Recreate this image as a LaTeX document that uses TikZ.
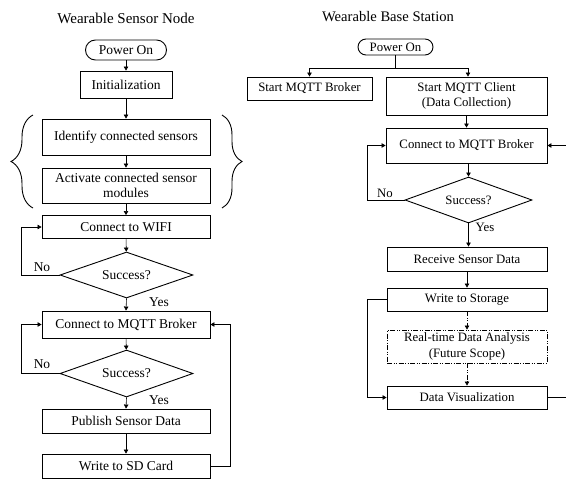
\documentclass[tikz,border=0pt]{standalone}
\usepackage{fontspec}
\setmainfont{Liberation Serif}
\usetikzlibrary{arrows.meta,shapes.geometric,decorations.pathreplacing}
\newcommand{\lfnt}{\fontsize{13.5}{15}\selectfont}
\newcommand{\rfnt}{\fontsize{12.8}{15.5}\selectfont}
\begin{document}
\begin{tikzpicture}[x=1pt,y=-1pt,
  box/.style={draw, line width=0.9pt, inner sep=0pt, align=center},
  lbox/.style={box, font=\lfnt, minimum width=168pt},
  rbox/.style={box, font=\rfnt, minimum width=160pt},
  term/.style={draw, line width=0.9pt, inner sep=0pt},
  dia/.style={draw, diamond, line width=0.9pt, inner sep=0pt, aspect=2.9},
  arr/.style={line width=0.6pt, -{Triangle[length=4pt,width=4.5pt]}},
  ln/.style={line width=0.6pt},
  dd/.style={dash pattern=on 5pt off 1.5pt on 1pt off 1.5pt on 1pt off 1.5pt},
  lab/.style={font=\lfnt, inner sep=0pt},
  rlab/.style={font=\rfnt, inner sep=0pt}
]
\useasboundingbox (0,0) rectangle (566,479);

% ---------------- Left: Wearable Sensor Node
\node[font=\fontsize{15}{17}\selectfont] (t1) at (126,18) {Wearable Sensor Node};
\node[term, rounded corners=10pt, minimum width=81pt, minimum height=20pt, font=\lfnt] (pon1) at (126,50) {Power On};
\node[lbox, minimum width=92pt, minimum height=27pt] (init) at (126,84.5) {Initialization};
\node[lbox, minimum height=36pt] (ident) at (126,137) {Identify connected sensors};
\node[lbox, minimum height=35pt] (activ) at (126,185.5) {Activate connected sensor\\modules};
\node[lbox, minimum height=23pt] (wifi) at (126,227) {Connect to WIFI};
\node[dia, minimum width=133pt, minimum height=46pt, font=\lfnt] (d1) at (126.5,275) {Success?};
\node[lbox, minimum height=27pt] (mq1) at (126,324.5) {Connect to MQTT Broker};
\node[dia, minimum width=133pt, minimum height=47pt, font=\lfnt] (d2) at (126.5,373.5) {Success?};
\node[lbox, minimum height=24pt] (pub) at (126,421) {Publish Sensor Data};
\node[lbox, minimum height=24pt] (sd) at (126,466) {Write to SD Card};

\draw[decorate, decoration={brace, amplitude=22pt}, line width=0.9pt] (33,208) -- (33,115);
\draw[decorate, decoration={brace, amplitude=20pt}, line width=0.9pt] (222,115) -- (222,208);

\draw[arr] (pon1) -- (init);
\draw[arr] (init) -- (ident);
\draw[arr] (ident) -- (activ);
\draw[arr] (activ) -- (wifi);
\draw[arr] (wifi) -- (d1);
\draw[arr] (d1.west) -- ++(-38,0) |- (wifi.west);
\node[lab] (no1) at (42,267) {No};
\draw[arr] (d1.south) -- (mq1.north);
\node[lab] (yes1) at (159,302) {Yes};
\draw[arr] (mq1) -- (d2);
\draw[arr] (d2.west) -- ++(-38,0) |- (mq1.west);
\node[lab] (no2) at (42,364) {No};
\draw[arr] (d2.south) -- (pub.north);
\node[lab] (yes2) at (159,400) {Yes};
\draw[arr] (pub) -- (sd);
\draw[arr] (sd.east) -- ++(20,0) |- (mq1.east);

% ---------------- Right: Wearable Base Station
\node[font=\fontsize{14.6}{17}\selectfont] (t2) at (388,17) {Wearable Base Station};
\node[term, rounded corners=8pt, minimum width=75pt, minimum height=16pt, font=\rfnt] (pon2) at (395.5,47) {Power On};
\node[rbox, minimum width=125pt, minimum height=23pt] (broker) at (309.5,88.5) {Start MQTT Broker};
\node[rbox, minimum width=161pt, minimum height=38pt] (client) at (466.5,96) {Start MQTT Client\\(Data Collection)};
\node[rbox, minimum width=161pt, minimum height=35pt] (conn2) at (466.5,145.5) {Connect to MQTT Broker};
\node[dia, minimum width=127pt, minimum height=46pt, font=\rfnt] (d3) at (468.5,200) {Success?};
\node[rbox, minimum height=24pt] (recv) at (467,259) {Receive Sensor Data};
\node[rbox, minimum height=23pt] (store) at (467,299.5) {Write to Storage};
\node[rbox, dd, minimum height=33pt] (rt) at (467,346.5) {Real-time Data Analysis\\(Future Scope)};
\node[rbox, minimum height=23pt] (vis) at (467,397.5) {Data Visualization};

\draw[ln] (pon2.south) -- ++(0,13) coordinate (j);
\draw[arr] (j) -| (broker.north);
\draw[arr] (j) -| ([xshift=1.5pt]client.north);
\draw[arr] (client) -- (conn2);
\draw[arr] ([xshift=2pt]conn2.south) -- (d3.north);
\draw[arr] (d3.west) -- ++(-37,0) |- (conn2.west);
\node[rlab] (no3) at (385,193) {No};
\draw[arr] (d3.south) -- ([xshift=1.5pt]recv.north);
\node[rlab] (yes3) at (485,227) {Yes};
\draw[arr] (recv) -- (store);
\draw[arr, dd] (store) -- (rt);
\draw[arr, dd] (rt) -- (vis);
\draw[arr] (store.west) -- ++(-19,0) |- (vis.west);
\coordinate (e1) at (566,397.5);
\coordinate (e2) at (566,145.5);
\draw[ln] (vis.east) -- (e1);
\draw[arr] (e2) -- (conn2.east);
\end{tikzpicture}
\end{document}
